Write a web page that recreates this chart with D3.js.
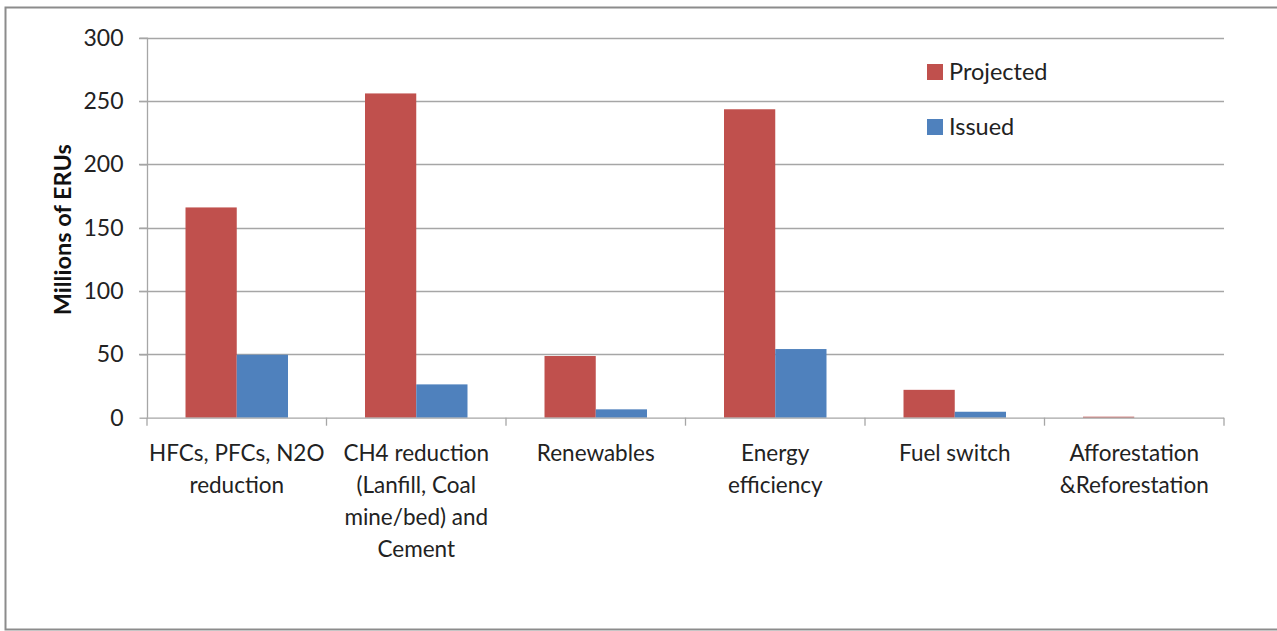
<!DOCTYPE html>
<html>
<head>
<meta charset="utf-8">
<script src="https://cdn.jsdelivr.net/npm/d3@7"></script>
<style>
  html, body { margin: 0; padding: 0; background: #fff; overflow: hidden; }
  svg { display: block; font-family: Lato, "Open Sans", sans-serif; }
</style>
</head>
<body>
<svg id="chart" width="1277" height="631"></svg>
<script>
// Emission reduction units by project type (millions)
const categories = [
  ["HFCs, PFCs, N2O", "reduction"],
  ["CH4 reduction", "(Lanfill, Coal", "mine/bed) and", "Cement"],
  ["Renewables"],
  ["Energy", "efficiency"],
  ["Fuel switch"],
  ["Afforestation", "&Reforestation"]
];
const projected = [166, 256, 48.7, 243.5, 22, 0.8];
const issued = [49.7, 26.3, 6.6, 54.2, 4.7, 0];
const seriesNames = ["Projected", "Issued"];
const seriesColors = ["#C0504D", "#4F81BD"];
const yTicks = [0, 50, 100, 150, 200, 250, 300];

const svg = d3.select("#chart");

// Outer chart frame
svg.append("rect")
  .attr("x", 5.5).attr("y", 7.5)
  .attr("width", 1290).attr("height", 622)
  .attr("fill", "#fff")
  .attr("stroke", "#8c8c8c").attr("stroke-width", 2);

const plot = { left: 147, right: 1224, top: 37.7, bottom: 417.7 };

const x0 = d3.scaleBand()
  .domain(d3.range(categories.length))
  .range([plot.left, plot.right])
  .paddingInner(0).paddingOuter(0);

const innerPad = 0.2145;
const x1 = d3.scaleBand()
  .domain(d3.range(seriesNames.length))
  .range([x0.bandwidth() * innerPad, x0.bandwidth() * (1 - innerPad)]);

const y = d3.scaleLinear().domain([0, 300]).range([plot.bottom, plot.top]);

// Horizontal gridlines
svg.append("g")
  .selectAll("line")
  .data(yTicks.filter(d => d > 0))
  .join("line")
  .attr("x1", plot.left - 8).attr("x2", plot.right)
  .attr("y1", d => Math.round(y(d)) + 0.5).attr("y2", d => Math.round(y(d)) + 0.5)
  .attr("stroke", "#a6a6a6").attr("stroke-width", 1.3);

// Bars
const data = categories.map((c, i) => [projected[i], issued[i]]);
const groups = svg.append("g")
  .selectAll("g")
  .data(data)
  .join("g")
  .attr("transform", (d, i) => `translate(${x0(i)},0)`);

groups.selectAll("rect")
  .data(d => d.map((v, s) => ({ v, s })))
  .join("rect")
  .attr("x", d => x1(d.s))
  .attr("width", x1.bandwidth())
  .attr("y", d => y(d.v))
  .attr("height", d => y(0) - y(d.v))
  .attr("fill", d => seriesColors[d.s]);

// Y axis
const yAxis = d3.axisLeft(y).tickValues(yTicks).tickSize(8).tickPadding(16);
const gy = svg.append("g")
  .attr("transform", `translate(${plot.left + 0.5},0)`)
  .call(yAxis);
gy.select(".domain").attr("stroke", "#a6a6a6").attr("stroke-width", 1.3).attr("d", `M0,${plot.top}V${plot.bottom}`);
gy.selectAll(".tick line").attr("stroke", "#a6a6a6").attr("stroke-width", 1.3);
gy.selectAll(".tick text")
  .attr("font-size", 23).attr("fill", "#222")
  .attr("font-family", "Lato, 'Open Sans', sans-serif");

// X axis: baseline with ticks at category boundaries
const gx = svg.append("g");
gx.append("line")
  .attr("x1", plot.left).attr("x2", plot.right)
  .attr("y1", plot.bottom + 0.5).attr("y2", plot.bottom + 0.5)
  .attr("stroke", "#a6a6a6").attr("stroke-width", 1.3);
gx.selectAll("line.tk")
  .data(d3.range(categories.length + 1))
  .join("line")
  .attr("class", "tk")
  .attr("x1", i => i < categories.length ? x0(i) : plot.right)
  .attr("x2", i => i < categories.length ? x0(i) : plot.right)
  .attr("y1", plot.bottom).attr("y2", plot.bottom + 8)
  .attr("stroke", "#a6a6a6").attr("stroke-width", 1.3);

// Category labels
svg.append("g")
  .selectAll("text")
  .data(categories)
  .join("text")
  .attr("x", (d, i) => x0(i) + x0.bandwidth() / 2)
  .attr("y", 461)
  .attr("text-anchor", "middle")
  .attr("font-size", 22.5).attr("fill", "#222")
  .selectAll("tspan")
  .data(d => d)
  .join("tspan")
  .attr("x", function() { return this.parentNode.getAttribute("x"); })
  .attr("dy", (d, j) => j === 0 ? 0 : 32)
  .text(d => d);

// Y axis title
svg.append("text")
  .attr("transform", `translate(71,${(plot.top + plot.bottom) / 2 + 2}) rotate(-90)`)
  .attr("text-anchor", "middle")
  .attr("font-size", 23.5).attr("font-weight", "bold").attr("fill", "#111")
  .text("Millions of ERUs");

// Legend
const legend = svg.append("g")
  .selectAll("g")
  .data(seriesNames)
  .join("g")
  .attr("transform", (d, i) => `translate(927,${64 + i * 55})`);
legend.append("rect")
  .attr("width", 16).attr("height", 16)
  .attr("fill", (d, i) => seriesColors[i]);
legend.append("text")
  .attr("x", 22).attr("y", 16)
  .attr("font-size", 23.5).attr("fill", "#222")
  .text(d => d);
</script>
</body>
</html>
